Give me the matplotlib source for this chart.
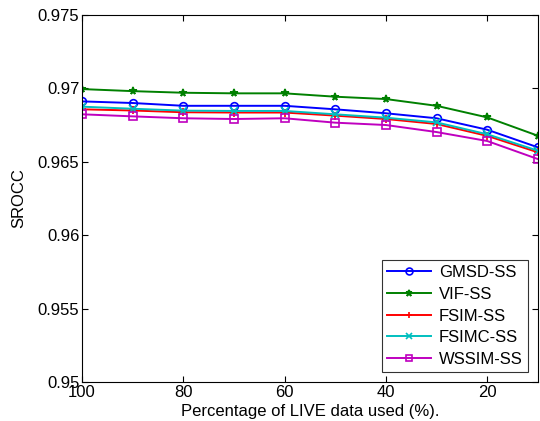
import matplotlib
matplotlib.use("Agg")
import matplotlib.pyplot as plt

plt.rcParams['font.family'] = ['Liberation Sans', 'DejaVu Sans']

pct = [100, 90, 80, 70, 60, 50, 40, 30, 20, 10]
gmsd = [0.96912, 0.96901, 0.96882, 0.96882, 0.96882, 0.96858, 0.96831, 0.96797, 0.96719, 0.96599]
vif = [0.96996, 0.96982, 0.96971, 0.96967, 0.96967, 0.96944, 0.96928, 0.96882, 0.96803, 0.96678]
fsim = [0.96858, 0.96850, 0.96838, 0.96836, 0.96836, 0.96815, 0.96792, 0.96758, 0.96677, 0.96565]
fsimc = [0.96876, 0.96862, 0.96849, 0.96847, 0.96847, 0.96824, 0.96801, 0.96769, 0.96688, 0.96576]
wssim = [0.96824, 0.96810, 0.96797, 0.96792, 0.96797, 0.96767, 0.96751, 0.96703, 0.96642, 0.96519]

series = [
    ("GMSD-SS", gmsd, "blue", "o"),
    ("VIF-SS", vif, (0, 0.5, 0), "*"),
    ("FSIM-SS", fsim, "red", "+"),
    ("FSIMC-SS", fsimc, (0, 0.75, 0.75), "x"),
    ("WSSIM-SS", wssim, (0.75, 0, 0.75), "s"),
]

fs = 12
fig = plt.figure(figsize=(5.4, 4.21), dpi=100)
ax = fig.add_axes([0.152, 0.093, 0.844, 0.871])
for name, vals, c, m in series:
    ax.plot(pct, vals, color=c, marker=m, lw=1.4, ms=5.5, mfc='none' if m in 'os' else c,
            mew=1.2, label=name)

ax.set_xlim(100, 10)
ax.set_ylim(0.95, 0.975)
ax.set_xticks([100, 80, 60, 40, 20])
ax.set_yticks([0.95, 0.955, 0.96, 0.965, 0.97, 0.975])
ax.set_yticklabels(['0.95', '0.955', '0.96', '0.965', '0.97', '0.975'])
ax.tick_params(direction='in', top=True, right=True, labelsize=fs, length=4, pad=2)
ax.set_xlabel('Percentage of LIVE data used (%).', fontsize=fs, labelpad=3)
ax.set_ylabel('SROCC', fontsize=fs, labelpad=8)
leg = ax.legend(loc='lower right', fontsize=fs, fancybox=False, edgecolor='black',
                handlelength=2.6, handletextpad=0.5, borderpad=0.3, labelspacing=0.4,
                borderaxespad=0.6, markerscale=0.9)
leg.get_frame().set_linewidth(0.8)
fig.savefig("out.png", dpi=100)
